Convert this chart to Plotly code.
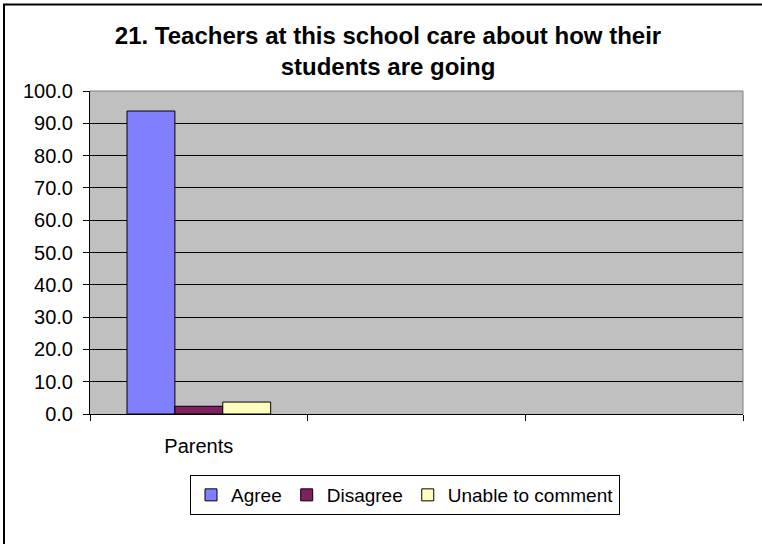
import plotly.graph_objects as go

categories = ["Parents", " ", "  "]
series_names = ["Agree", "Disagree", "Unable to comment"]
agree = [93.8, None, None]
disagree = [2.4, None, None]
unable = [3.7, None, None]
colors = ["#8080FF", "#802060", "#FFFFC0"]
y_ticks = [0, 10, 20, 30, 40, 50, 60, 70, 80, 90, 100]

W, H = 762, 544
ml, mr, mt, mb = 90, 19, 91, 130
pw, ph = W - ml - mr, H - mt - mb

fig = go.Figure()
for name, vals, c in zip(series_names, [agree, disagree, unable], colors):
    fig.add_trace(go.Bar(x=categories, y=vals, name=name,
                         marker=dict(color=c, line=dict(color="black", width=1))))

def px_x(p):
    return (p - ml) / pw

def px_y(p):
    return (H - mb - p) / ph

FONT = "Arial, Liberation Sans, sans-serif"
fig.update_layout(
    width=W, height=H,
    margin=dict(l=ml, r=mr, t=mt, b=mb),
    paper_bgcolor="white",
    plot_bgcolor="#C0C0C0",
    barmode="group", bargap=0.34, bargroupgap=0,
    font=dict(family=FONT, size=20, color="black"),
    title=dict(text="<b>21. Teachers at this school care about how their<br>students are going</b>",
               font=dict(family=FONT, size=24, color="black"),
               x=388 / W, xref="container", xanchor="center",
               y=1 - 44 / H, yref="container", yanchor="middle"),
    showlegend=True,
    legend=dict(orientation="h", x=px_x(405), xanchor="center", y=px_y(475), yanchor="top",
                bordercolor="black", borderwidth=1, bgcolor="white",
                font=dict(family=FONT, size=19), itemwidth=30, traceorder="normal"),
    xaxis=dict(type="category", tickson="boundaries", ticks="outside", ticklen=6,
               tickcolor="black", tickwidth=1, showline=True, linecolor="black", linewidth=1,
               showgrid=False, ticklabelstandoff=14, range=[-0.5, 2.5]),
    yaxis=dict(range=[0, 100], tickvals=y_ticks, tickformat=".1f", ticks="outside", ticklen=6,
               tickcolor="black", tickwidth=1, showline=True, linecolor="black", linewidth=1,
               showgrid=True, gridcolor="black", gridwidth=1, zeroline=False,
               ticklabelstandoff=6),
    shapes=[
        dict(type="line", xref="paper", yref="paper", x0=0, x1=1, y0=1, y1=1,
             line=dict(color="#808080", width=1), layer="above"),
        dict(type="line", xref="paper", yref="paper", x0=1, x1=1, y0=0, y1=1,
             line=dict(color="#808080", width=1), layer="above"),
        dict(type="rect", xref="paper", yref="paper", x0=px_x(4), x1=px_x(W + 20),
             y0=px_y(H + 20), y1=px_y(4.5),
             line=dict(color="black", width=2), fillcolor="rgba(0,0,0,0)", layer="above"),
    ],
)

fig.write_html("out.html", config={"displayModeBar": False},
               post_script="document.body.style.margin='0px';document.body.style.overflow='hidden';")
